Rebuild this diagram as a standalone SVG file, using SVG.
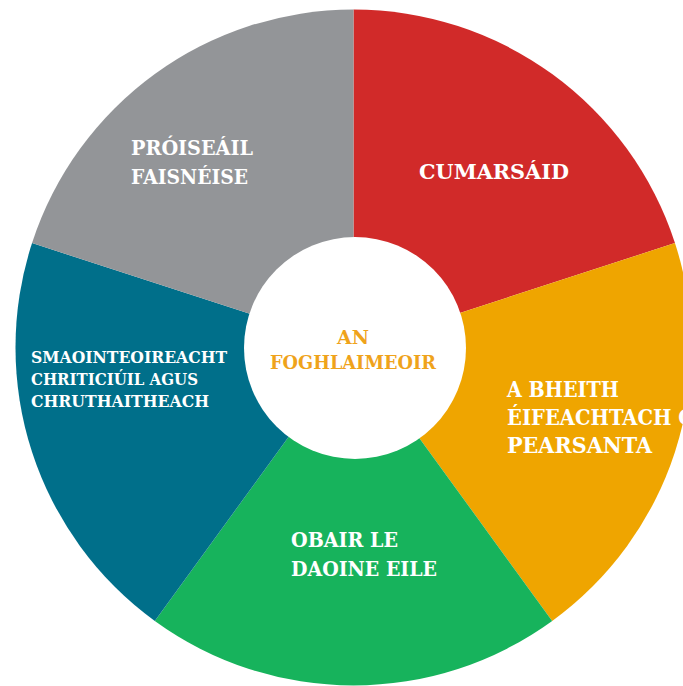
<svg xmlns="http://www.w3.org/2000/svg" width="683" height="686" viewBox="0 0 683 686">
  <style>
    .lbl { font-family: "DejaVu Serif", "Liberation Serif", serif; font-weight: bold; fill: #ffffff; }
    .hub { font-family: "DejaVu Serif", "Liberation Serif", serif; font-weight: bold; fill: #efa31b; }
  </style>
  <rect width="683" height="686" fill="#ffffff"/>

  <!-- five equal 72-degree sectors round the centre (353.5, 347.5), r = 338 -->
  <g id="cumarsaid">
    <path d="M353.5,347.5 L353.5,9.5 A338,338 0 0 1 674.96,243.05 Z" fill="#d12a29"/>
    <text class="lbl" x="419" y="179" font-size="20" textLength="150" lengthAdjust="spacingAndGlyphs">CUMARSÁID</text>
  </g>
  <g id="eifeachtach">
    <path d="M353.5,347.5 L674.96,243.05 A338,338 0 0 1 552.17,620.95 Z" fill="#efa500"/>
    <text class="lbl" font-size="21.5">
      <tspan x="507" y="397" textLength="112" lengthAdjust="spacingAndGlyphs">A BHEITH</tspan>
      <tspan x="507" y="425" textLength="205" lengthAdjust="spacingAndGlyphs">ÉIFEACHTACH GO</tspan>
      <tspan x="507" y="453" textLength="145" lengthAdjust="spacingAndGlyphs">PEARSANTA</tspan>
    </text>
  </g>
  <g id="obair">
    <path d="M353.5,347.5 L552.17,620.95 A338,338 0 0 1 154.83,620.95 Z" fill="#17b35c"/>
    <text class="lbl" font-size="20">
      <tspan x="291" y="547" textLength="107" lengthAdjust="spacingAndGlyphs">OBAIR LE</tspan>
      <tspan x="291" y="576" textLength="146" lengthAdjust="spacingAndGlyphs">DAOINE EILE</tspan>
    </text>
  </g>
  <g id="smaointeoireacht">
    <path d="M353.5,347.5 L154.83,620.95 A338,338 0 0 1 32.04,243.05 Z" fill="#006f8a"/>
    <text class="lbl" font-size="16">
      <tspan x="31" y="363" textLength="196" lengthAdjust="spacingAndGlyphs">SMAOINTEOIREACHT</tspan>
      <tspan x="31" y="385" textLength="167" lengthAdjust="spacingAndGlyphs">CHRITICIÚIL AGUS</tspan>
      <tspan x="31" y="407" textLength="178" lengthAdjust="spacingAndGlyphs">CHRUTHAITHEACH</tspan>
    </text>
  </g>
  <g id="proiseail">
    <path d="M353.5,347.5 L32.04,243.05 A338,338 0 0 1 353.5,9.5 Z" fill="#939598"/>
    <text class="lbl" font-size="20.5">
      <tspan x="131" y="155" textLength="122" lengthAdjust="spacingAndGlyphs">PRÓISEÁIL</tspan>
      <tspan x="131" y="184" textLength="117" lengthAdjust="spacingAndGlyphs">FAISNÉISE</tspan>
    </text>
  </g>

  <!-- hub -->
  <g id="foghlaimeoir">
    <circle cx="355" cy="348" r="111" fill="#ffffff"/>
    <text class="hub" font-size="18">
      <tspan x="337" y="344" textLength="32" lengthAdjust="spacingAndGlyphs">AN</tspan>
      <tspan x="270" y="369" textLength="166" lengthAdjust="spacingAndGlyphs">FOGHLAIMEOIR</tspan>
    </text>
  </g>
</svg>
